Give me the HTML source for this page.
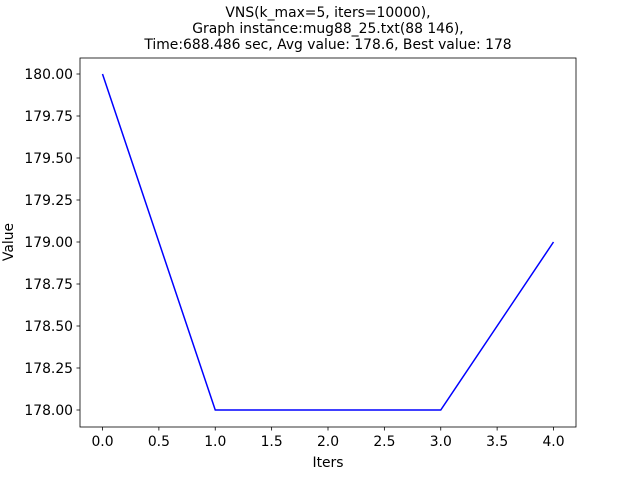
<!DOCTYPE html>
<html><head><meta charset="utf-8"><style>
body{margin:0;background:#fff;font-family:"DejaVu Sans","Liberation Sans",sans-serif;}
svg text{font-family:"DejaVu Sans","Liberation Sans",sans-serif;font-size:13.9px;fill:#000;}
</style></head><body>
<svg width="640" height="480" xmlns="http://www.w3.org/2000/svg">
<rect width="640" height="480" fill="#fff"/>
<g>
<text x="328" y="17" text-anchor="middle">VNS(k_max=5, iters=10000),</text>
<text x="328" y="33" text-anchor="middle">Graph instance:mug88_25.txt(88 146),</text>
<text x="328" y="49" text-anchor="middle">Time:688.486 sec, Avg value: 178.6, Best value: 178</text>
</g>
<g id="xt"></g>
<g id="yt"></g>
<path id="line" fill="none" stroke="#0000ff" stroke-width="1.5"/>
<rect x="80" y="58" width="496" height="369" fill="none" stroke="#000" stroke-width="0.8"/>
<text x="328" y="467" text-anchor="middle">Iters</text>
<text transform="translate(13,242) rotate(-90)" text-anchor="middle">Value</text>
</svg>
<script>
const iters=[0,1,2,3,4];
const values=[180,178,178,178,179];
const xTicks=[0,0.5,1,1.5,2,2.5,3,3.5,4];
const yTicks=[178,178.25,178.5,178.75,179,179.25,179.5,179.75,180];
function X(v){return 102.5+v*(553.5-102.5)/4;}
function Y(v){return 410-(v-178)*(410-74)/2;}
const NS='http://www.w3.org/2000/svg';
const xt=document.getElementById('xt'),yt=document.getElementById('yt');
xTicks.forEach(t=>{
 const l=document.createElementNS(NS,'line');
 l.setAttribute('x1',X(t));l.setAttribute('x2',X(t));l.setAttribute('y1',427);l.setAttribute('y2',430.5);l.setAttribute('stroke','#000');l.setAttribute('stroke-width','0.8');
 
 
 xt.appendChild(l);
 const tx=document.createElementNS(NS,'text');
 tx.setAttribute('x',X(t));tx.setAttribute('y',446);tx.setAttribute('text-anchor','middle');tx.textContent=t.toFixed(1);
 
 
 xt.appendChild(tx);
});
yTicks.forEach(t=>{
 const l=document.createElementNS(NS,'line');
 l.setAttribute('x1',76.5);l.setAttribute('x2',80);l.setAttribute('y1',Y(t));l.setAttribute('y2',Y(t));l.setAttribute('stroke','#000');l.setAttribute('stroke-width','0.8');
 
 
 yt.appendChild(l);
 const tx=document.createElementNS(NS,'text');
 tx.setAttribute('x',73);tx.setAttribute('y',Y(t)+5);tx.setAttribute('text-anchor','end');tx.textContent=t.toFixed(2);
 
 
 yt.appendChild(tx);
});
document.getElementById('line').setAttribute('d',iters.map((v,i)=>(i?'L':'M')+X(v)+' '+Y(values[i])).join(' '));
</script>
</body></html>
